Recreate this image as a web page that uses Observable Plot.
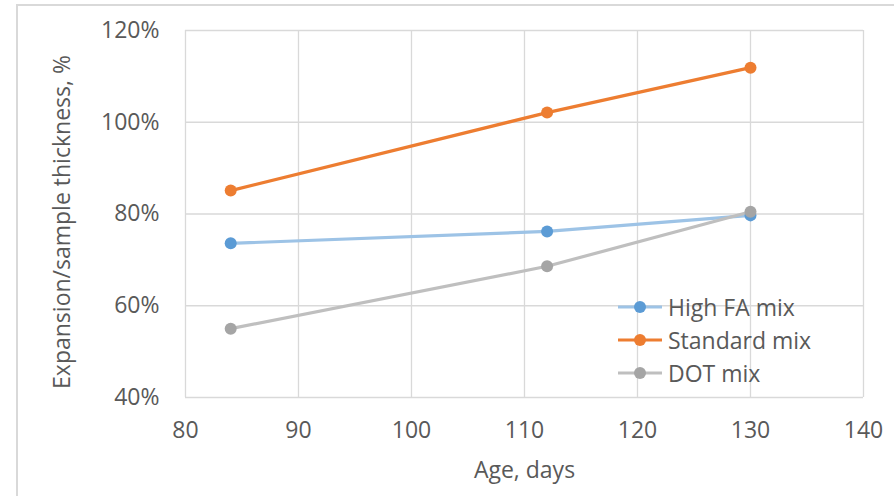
<!DOCTYPE html>
<html>
<head>
<meta charset="utf-8">
<script src="https://cdn.jsdelivr.net/npm/d3@7"></script>
<script src="https://cdn.jsdelivr.net/npm/@observablehq/plot@0.6"></script>
<style>
  html, body { margin: 0; padding: 0; background: #fff; }
  #wrap { position: relative; width: 894px; height: 496px; overflow: hidden; font-family: "Open Sans", sans-serif; }
  #frame { position: absolute; left: 16px; top: 4px; width: 900px; height: 520px; border: 2px solid #D9D9D9; box-sizing: border-box; pointer-events: none; }
  #legend { position: absolute; left: 617px; top: 290px; font-size: 23px; color: #595959; }
  #legend .row { display: flex; align-items: center; height: 33px; }
  #legend svg { margin-right: 5px; }
</style>
</head>
<body>
<div id="wrap">
  <div id="chart"></div>
  <div id="frame"></div>
  <div id="legend"></div>
</div>
<script>
const ages = [84, 112, 130];
const seriesNames = ["High FA mix", "Standard mix", "DOT mix"];
const highFA = [73.6, 76.2, 79.7];
const standard = [85.1, 102.1, 111.9];
const dotMix = [55.0, 68.6, 80.5];
const xTicks = [80, 90, 100, 110, 120, 130, 140];
const yTicks = [40, 60, 80, 100, 120];
const xTitle = "Age, days";
const yTitle = "Expansion/sample thickness, %";
const lineColors = ["#9DC3E6", "#ED7D31", "#BFBFBF"];
const dotColors = ["#5B9BD5", "#ED7D31", "#A5A5A5"];

const valuesBySeries = [highFA, standard, dotMix];
const rows = [];
seriesNames.forEach((s, i) => ages.forEach((a, j) => rows.push({series: s, age: a, value: valuesBySeries[i][j]})));

const chart = Plot.plot({
  width: 894,
  height: 496,
  marginLeft: 185,
  marginRight: 31,
  marginTop: 30,
  marginBottom: 99,
  style: {fontFamily: "Open Sans, sans-serif", fontSize: "23px", color: "#595959", background: "transparent"},
  x: {domain: [80, 140]},
  y: {domain: [40, 120]},
  color: {domain: seriesNames, range: lineColors},
  marks: [
    Plot.gridX(xTicks, {stroke: "#D9D9D9", strokeOpacity: 1, strokeWidth: 1.3}),
    Plot.gridY(yTicks, {stroke: "#D9D9D9", strokeOpacity: 1, strokeWidth: 1.3}),
    Plot.axisX(xTicks, {tickSize: 0, tickPadding: 24, label: xTitle, labelAnchor: "center", labelOffset: 80, labelArrow: "none", fill: "#595959"}),
    Plot.axisY(yTicks, {tickSize: 0, tickPadding: 26, tickFormat: d => d + "%", label: null, fill: "#595959"}),
    Plot.text([yTitle], {frameAnchor: "left", text: d => d, rotate: -90, textAnchor: "middle", lineAnchor: "middle", dx: -123, dy: 8, fill: "#595959", fontSize: 23}),
    Plot.line(rows, {x: "age", y: "value", z: "series", stroke: "series", strokeWidth: 3.2}),
    Plot.dot(rows, {x: "age", y: "value", r: 6, fill: d => dotColors[seriesNames.indexOf(d.series)], stroke: "none"})
  ]
});
document.getElementById("chart").appendChild(chart);

const legend = document.getElementById("legend");
seriesNames.forEach((s, i) => {
  const row = document.createElement("div");
  row.className = "row";
  row.innerHTML = `<svg width="46" height="14"><line x1="1" x2="45" y1="7" y2="7" stroke="${lineColors[i]}" stroke-width="3.2"/><circle cx="23" cy="7" r="6" fill="${dotColors[i]}"/></svg><span>${s}</span>`;
  legend.appendChild(row);
});
</script>
</body>
</html>
